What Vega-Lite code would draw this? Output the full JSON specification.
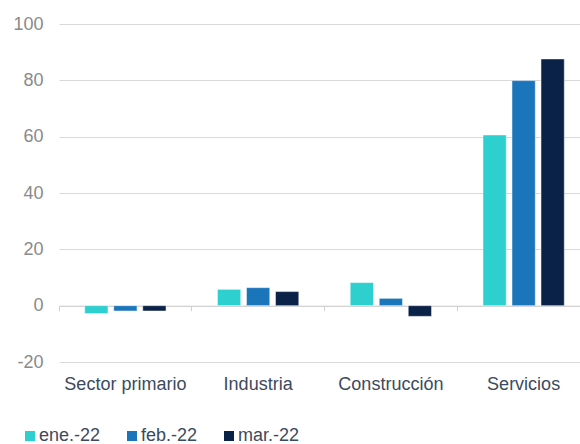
{
  "$schema": "https://vega.github.io/schema/vega-lite/v6.json",
  "autosize": "none",
  "width": 531,
  "height": 338,
  "padding": {"left": 59, "top": 24, "right": 0, "bottom": 82},
  "config": {
    "view": {"stroke": null},
    "font": "Liberation Sans"
  },
  "data": {
    "values": [
      {"sector": "Sector primario", "mes": "ene.-22", "valor": -2.8},
      {"sector": "Sector primario", "mes": "feb.-22", "valor": -1.9},
      {"sector": "Sector primario", "mes": "mar.-22", "valor": -1.9},
      {"sector": "Industria", "mes": "ene.-22", "valor": 5.8},
      {"sector": "Industria", "mes": "feb.-22", "valor": 6.4},
      {"sector": "Industria", "mes": "mar.-22", "valor": 5.0},
      {"sector": "Construcción", "mes": "ene.-22", "valor": 8.2},
      {"sector": "Construcción", "mes": "feb.-22", "valor": 2.6},
      {"sector": "Construcción", "mes": "mar.-22", "valor": -3.8},
      {"sector": "Servicios", "mes": "ene.-22", "valor": 60.6},
      {"sector": "Servicios", "mes": "feb.-22", "valor": 79.9},
      {"sector": "Servicios", "mes": "mar.-22", "valor": 87.6}
    ]
  },
  "mark": {"type": "bar", "stroke": "white", "strokeWidth": 0.5},
  "encoding": {
    "x": {
      "field": "sector",
      "type": "nominal",
      "sort": ["Sector primario", "Industria", "Construcción", "Servicios"],
      "scale": {"paddingInner": 0, "paddingOuter": 0},
      "title": null,
      "axis": {
        "offset": -56.3,
        "bandPosition": 0,
        "labelAngle": 0,
        "labelFontSize": 18,
        "labelColor": "#3b4a5e",
        "labelPadding": 65,
        "tickSize": 5,
        "tickColor": "#d0d0d0",
        "domainColor": "#d0d0d0",
        "domainWidth": 1,
        "grid": false
      }
    },
    "xOffset": {
      "field": "mes",
      "type": "nominal",
      "scale": {"paddingInner": 0.197, "paddingOuter": 0.886}
    },
    "y": {
      "field": "valor",
      "type": "quantitative",
      "title": null,
      "scale": {"domain": [-20, 100], "nice": false},
      "axis": {
        "values": [-20, 0, 20, 40, 60, 80, 100],
        "labelExpr": "replace(datum.label, '\u2212', '-')",
        "domain": false,
        "ticks": false,
        "labelPadding": 16,
        "labelFontSize": 18,
        "labelColor": "#8a8a8a",
        "gridColor": "#d9d9d9",
        "gridWidth": 1
      }
    },
    "color": {
      "field": "mes",
      "type": "nominal",
      "scale": {"domain": ["ene.-22", "feb.-22", "mar.-22"], "range": ["#2ecfcf", "#1b75bb", "#0a2248"]},
      "legend": {
        "title": null,
        "orient": "none",
        "direction": "horizontal",
        "legendX": -38,
        "legendY": 403,
        "symbolType": "square",
        "symbolSize": 100,
        "symbolStrokeWidth": 0,
        "labelFontSize": 18,
        "labelColor": "#3b4a5e",
        "labelOffset": 0,
        "columnPadding": 22
      }
    }
  }
}
